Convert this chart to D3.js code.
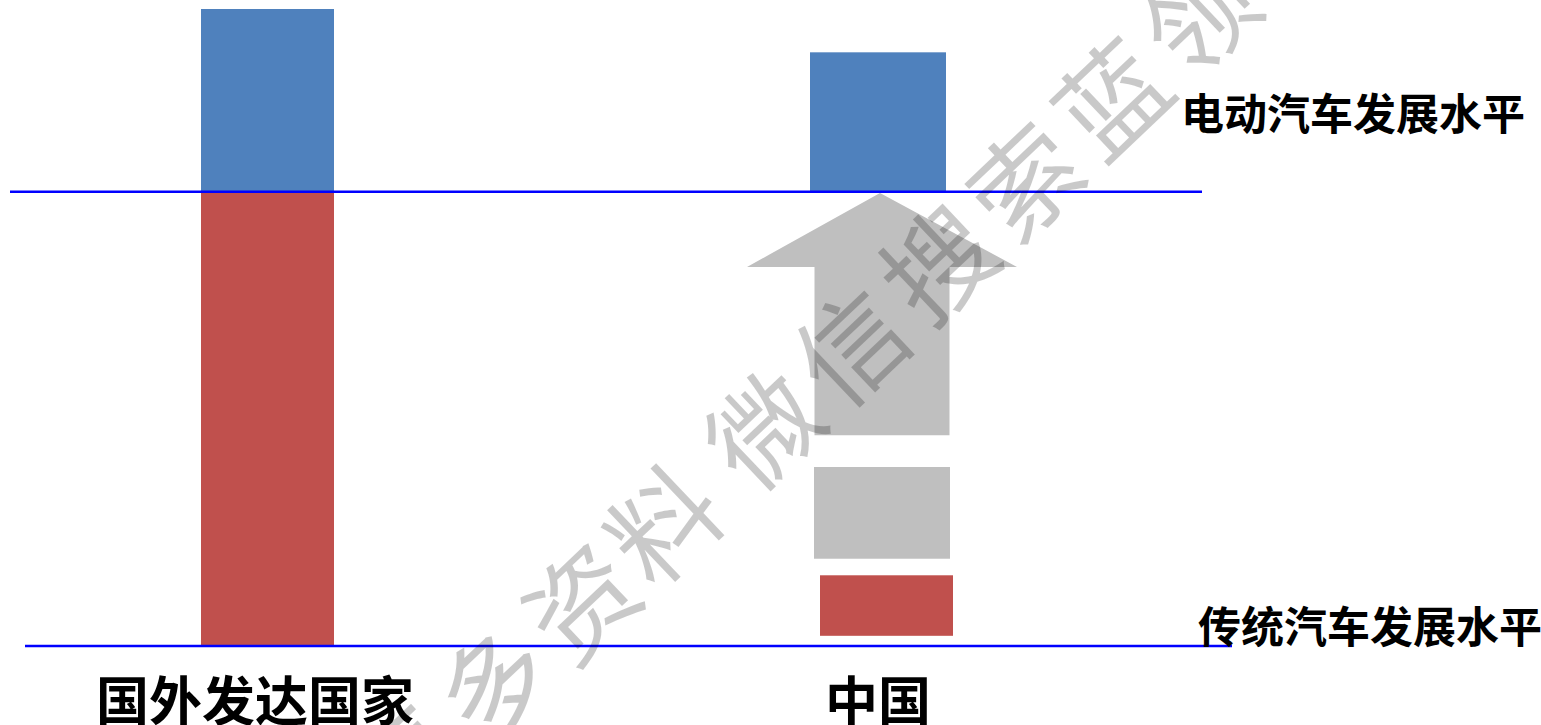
<!DOCTYPE html>
<html>
<head>
<meta charset="utf-8">
<script src="https://cdn.jsdelivr.net/npm/d3@7"></script>
<style>
  html, body { margin: 0; padding: 0; background: #ffffff; }
  svg { display: block; }
</style>
</head>
<body>
<script>
// ---------- data ----------
const categories = ["国外发达国家", "中国"];
// traditional-car development level (red) – [low, high] per category
const tradLow  = [0, 1.6];
const tradHigh = [71.3, 11.1];
// electric-car development level (blue) – [low, high] per category
const evLow  = [71.3, 71.3];
const evHigh = [100, 93.2];
// grey "gap" block and upward arrow for 中国
const gapLow = 13.7, gapHigh = 28.1;
const arrowBase = 33.1, arrowNeck = 59.5, arrowTip = 71.1;
// reference level lines and their labels
const levelValues = [71.3, 0];
const levelLabels = ["电动汽车发展水平", "传统汽车发展水平"];
const watermarkChars = ["更", "多", "资", "料", "微", "信", "搜", "索", "蓝", "领"];
const watermarkIndex = [-4.1, -3.1, -2.1, -1.15, 0, 1, 2, 3, 4, 5];

// ---------- layout ----------
const W = 1541, H = 725;
const svg = d3.select("body").append("svg").attr("width", W).attr("height", H);

const x = d3.scalePoint().domain(categories).range([267.5, 878]);
const y = d3.scaleLinear().domain([0, 100]).range([646, 9]);

const colRed = "#c0504d", colBlue = "#4f81bd", colGrey = "#bfbfbf";

// bars: red and blue
const barW = [133, 136];
const redShift = [0, 8.5], redW = [133, 133];

svg.append("g").selectAll("rect").data(categories).join("rect")
  .attr("x", (d, i) => x(d) - redW[i] / 2 + redShift[i])
  .attr("y", (d, i) => y(tradHigh[i]))
  .attr("width", (d, i) => redW[i])
  .attr("height", (d, i) => y(tradLow[i]) - y(tradHigh[i]))
  .attr("fill", colRed);

svg.append("g").selectAll("rect").data(categories).join("rect")
  .attr("x", (d, i) => x(d) - barW[i] / 2)
  .attr("y", (d, i) => y(evHigh[i]))
  .attr("width", (d, i) => barW[i])
  .attr("height", (d, i) => y(evLow[i]) - y(evHigh[i]))
  .attr("fill", colBlue);

// grey gap block (中国)
const cx = x("中国") + 4;
svg.append("rect")
  .attr("x", cx - 68).attr("y", y(gapHigh))
  .attr("width", 136).attr("height", y(gapLow) - y(gapHigh))
  .attr("fill", colGrey);

// upward arrow (中国)
const shaftHalf = 67.5, headHalf = 135;
const arrowPts = [
  [cx - shaftHalf, y(arrowBase)],
  [cx - shaftHalf, y(arrowNeck)],
  [cx - headHalf, y(arrowNeck)],
  [cx - 2, y(arrowTip)],
  [cx + headHalf, y(arrowNeck)],
  [cx + shaftHalf, y(arrowNeck)],
  [cx + shaftHalf, y(arrowBase)]
];
svg.append("path")
  .attr("d", d3.line()(arrowPts) + "Z")
  .attr("fill", colGrey);

// level lines
const lineExtent = [[10, 1202], [25, 1232]];
svg.append("g").selectAll("line").data(levelValues).join("line")
  .attr("x1", (d, i) => lineExtent[i][0])
  .attr("x2", (d, i) => lineExtent[i][1])
  .attr("y1", d => y(d)).attr("y2", d => y(d))
  .attr("stroke", "#0000ff").attr("stroke-width", 2.5);

// level labels
const labelPos = [[1181, 130], [1198, 643]];
svg.append("g").selectAll("text").data(levelLabels).join("text")
  .attr("x", (d, i) => labelPos[i][0])
  .attr("y", (d, i) => labelPos[i][1])
  .attr("font-family", "'Noto Sans CJK SC', sans-serif")
  .attr("font-weight", 700)
  .attr("font-size", 43)
  .attr("fill", "#000")
  .text(d => d);

// category labels
const catShift = [-12.5, 0];
svg.append("g").selectAll("text").data(categories).join("text")
  .attr("x", (d, i) => x(d) + catShift[i])
  .attr("y", 721)
  .attr("text-anchor", "middle")
  .attr("font-family", "'Noto Sans CJK SC', sans-serif")
  .attr("font-weight", 700)
  .attr("font-size", 53)
  .attr("fill", "#000")
  .text(d => d);

// watermark
const ang = -43.5, step = 120;
const ux = Math.cos(ang * Math.PI / 180), uy = Math.sin(ang * Math.PI / 180);
const origin = [760, 425];
svg.append("g").selectAll("text").data(watermarkChars).join("text")
  .attr("transform", (d, i) => {
    const px = origin[0] + watermarkIndex[i] * step * ux;
    const py = origin[1] + watermarkIndex[i] * step * uy;
    return `translate(${px},${py}) rotate(${ang})`;
  })
  .attr("text-anchor", "middle")
  .attr("dominant-baseline", "central")
  .attr("font-family", "'Noto Sans CJK SC', sans-serif")
  .attr("font-weight", 400)
  .attr("font-size", 108)
  .attr("fill", "#000")
  .attr("fill-opacity", 0.21)
  .text(d => d);
</script>
</body>
</html>
